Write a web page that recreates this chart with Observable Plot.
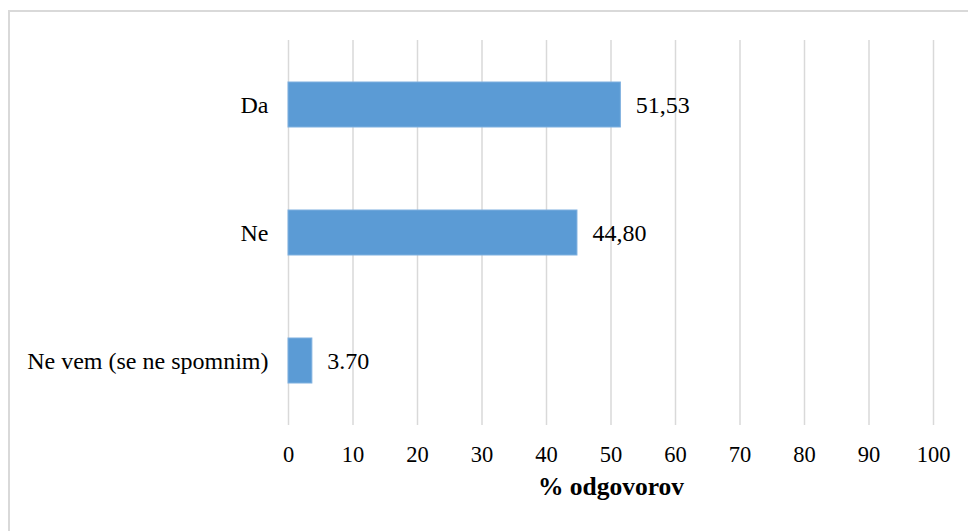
<!DOCTYPE html>
<html>
<head>
<meta charset="utf-8">
<script src="https://cdn.jsdelivr.net/npm/d3@7"></script>
<script src="https://cdn.jsdelivr.net/npm/@observablehq/plot@0.6"></script>
<style>
  html, body { margin: 0; padding: 0; background: #fff; }
  #wrap { position: relative; width: 968px; height: 531px; overflow: hidden; }
  #frame { position: absolute; left: 8px; top: 10px; width: 980px; height: 540px;
           border-left: 2px solid #d9d9d9; border-top: 2px solid #d9d9d9; box-sizing: border-box; }
  #chart { position: absolute; left: 0; top: 0; }
  #chart svg, #chart svg text { font-family: 'Liberation Serif', 'Times New Roman', serif !important; }
</style>
</head>
<body>
<div id="wrap"><div id="frame"></div><div id="chart"></div></div>
<script>
const categories = ["Da", "Ne", "Ne vem (se ne spomnim)"];
const values = [51.53, 44.80, 3.70];
const valueLabels = ["51,53", "44,80", "3.70"];
const xTicks = [0, 10, 20, 30, 40, 50, 60, 70, 80, 90, 100];
const xLabel = "% odgovorov";

const data = categories.map((c, i) => ({category: c, value: values[i], label: valueLabels[i]}));
const serif = "'Liberation Serif', 'Times New Roman', serif";

const chart = Plot.plot({
  width: 968,
  height: 531,
  marginLeft: 288,
  marginRight: 35,
  marginTop: 40,
  marginBottom: 106,
  style: {fontFamily: serif, fontSize: "22px", color: "#000", background: "transparent"},
  x: {domain: [0, 100], ticks: xTicks, label: null},
  y: {domain: categories, paddingInner: 0.65, paddingOuter: 0.325, label: null},
  marks: [
    Plot.ruleX(xTicks, {stroke: "#d9d9d9", strokeWidth: 1.5, strokeOpacity: 1}),
    Plot.barX(data, {x: "value", y: "category", fill: "#5b9bd5", stroke: "#7fb0df", strokeWidth: 1}),
    Plot.text(data, {x: "value", y: "category", text: "label", textAnchor: "start", dx: 15, fill: "#000", fontSize: 24, fontFamily: serif}),
    Plot.axisX({ticks: xTicks, tickSize: 0, tickPadding: 21, tickFormat: d => String(d), fontSize: 22.5, fontFamily: serif, label: null}),
    Plot.axisY({tickSize: 0, tickPadding: 20, fontSize: 24, fontFamily: serif, label: null}),
    Plot.text([xLabel], {frameAnchor: "bottom", dy: 69, text: d => d, fontWeight: "bold", fontSize: 25.5, fontFamily: serif, fill: "#000"})
  ]
});
document.getElementById("chart").appendChild(chart);
</script>
</body>
</html>
